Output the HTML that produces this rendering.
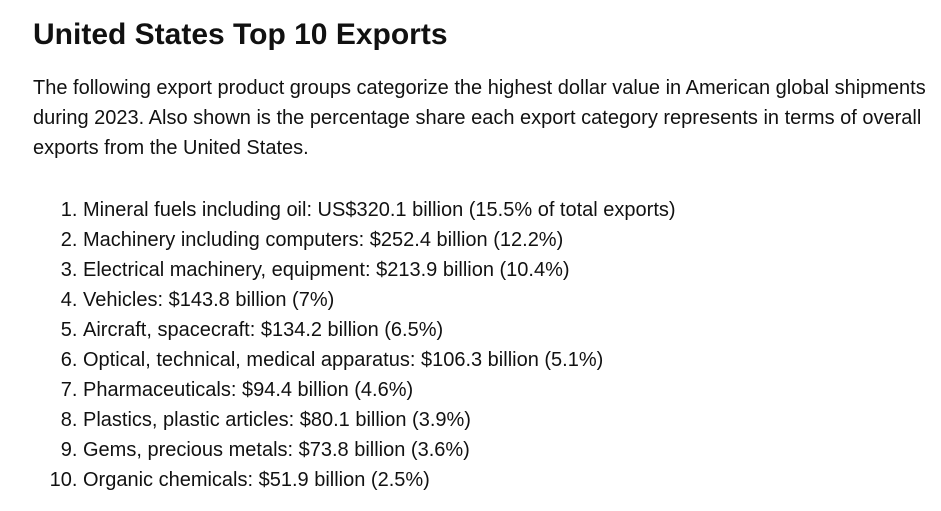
<!DOCTYPE html>
<html>
<head>
<meta charset="utf-8">
<style>
  html, body { margin:0; padding:0; background:#fff; }
  body { width:941px; height:511px; position:relative; overflow:hidden;
         font-family:"Liberation Sans", Arial, sans-serif; color:#111; }
  h1 { position:absolute; left:33px; top:16px; margin:0; font-size:30px; line-height:38px; font-weight:bold; color:#111; }
  p { position:absolute; left:33px; top:73px; width:900px; margin:0; font-size:20px; line-height:30px; }
  ol { position:absolute; left:33px; top:195px; margin:0; padding-left:50px; font-size:20px; line-height:30px; }
  li { padding-left:0; }
</style>
</head>
<body>
<h1>United States Top 10 Exports</h1>
<p>The following export product groups categorize the highest dollar value in American global shipments during 2023. Also shown is the percentage share each export category represents in terms of overall exports from the United States.</p>
<ol>
  <li>Mineral fuels including oil: US$320.1 billion (15.5% of total exports)</li>
  <li>Machinery including computers: $252.4 billion (12.2%)</li>
  <li>Electrical machinery, equipment: $213.9 billion (10.4%)</li>
  <li>Vehicles: $143.8 billion (7%)</li>
  <li>Aircraft, spacecraft: $134.2 billion (6.5%)</li>
  <li>Optical, technical, medical apparatus: $106.3 billion (5.1%)</li>
  <li>Pharmaceuticals: $94.4 billion (4.6%)</li>
  <li>Plastics, plastic articles: $80.1 billion (3.9%)</li>
  <li>Gems, precious metals: $73.8 billion (3.6%)</li>
  <li>Organic chemicals: $51.9 billion (2.5%)</li>
</ol>
</body>
</html>
